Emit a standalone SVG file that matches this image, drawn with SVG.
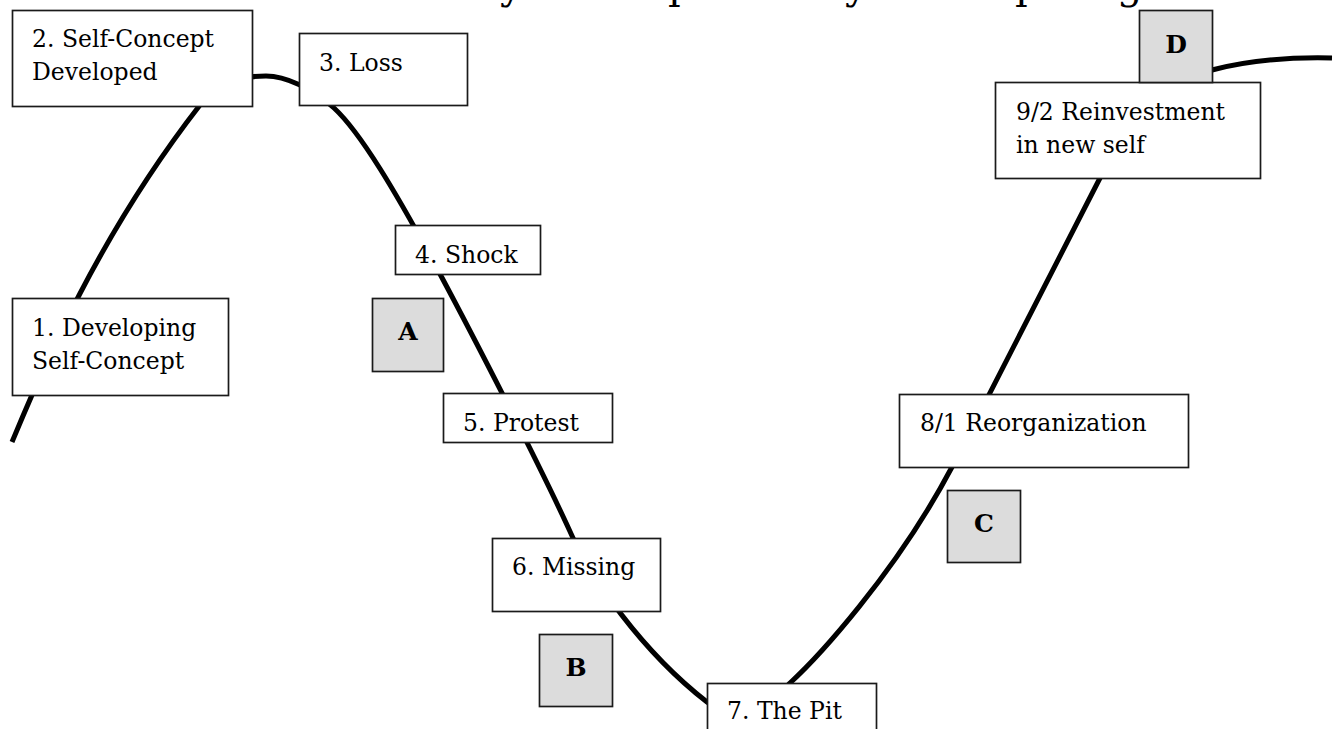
<svg xmlns="http://www.w3.org/2000/svg" width="1337" height="729" viewBox="0 0 1337 729">
<style>
.bg{fill:#ffffff}
.box rect{fill:#ffffff;stroke:#1a1a1a;stroke-width:1.7}
.tag rect{fill:#dcdcdc;stroke:#1a1a1a;stroke-width:1.7}
text{font-family:"DejaVu Serif","Liberation Serif",serif;font-size:23.5px;fill:#000}
.tag text{font-weight:bold;font-size:25px;text-anchor:middle}
.title{font-size:40px}
.curve{fill:none;stroke:#000;stroke-width:5;stroke-linecap:butt;stroke-linejoin:round}
</style>
<rect class="bg" x="0" y="0" width="1337" height="729"/>
<text class="title" x="500 668 845 1015 1117" y="-1">ypypg</text>
<g id="connectors">
<path class="curve" d="M12,442 C40,375 95,240 200,105 C220,80 245,76 266,76 C285,76 312,88 334,108 C360,132 395,190 440,274 C470,330 540,465 573,538 C590,575 640,650 707,702 C740,728 765,710 790,683 C815,660 895,575 952,467 L1100,178 C1130,120 1170,82 1212,70 C1250,60 1290,57 1332,58"/>
</g>
<g id="node1" class="box"><rect x="12.5" y="298.5" width="216" height="97"/><text x="32" y="335.5">1. Developing</text><text x="32" y="368.5">Self-Concept</text></g>
<g id="node2" class="box"><rect x="12.5" y="10.5" width="240" height="96"/><text x="32" y="47">2. Self-Concept</text><text x="32" y="80">Developed</text></g>
<g id="node3" class="box"><rect x="299.5" y="33.5" width="168" height="72"/><text x="319" y="70.5">3. Loss</text></g>
<g id="node4" class="box"><rect x="395.5" y="225.5" width="145" height="49"/><text x="415" y="262.5">4. Shock</text></g>
<g id="node5" class="box"><rect x="443.5" y="393.5" width="169" height="49"/><text x="463" y="431">5. Protest</text></g>
<g id="node6" class="box"><rect x="492.5" y="538.5" width="168" height="73"/><text x="512" y="575">6. Missing</text></g>
<g id="node7" class="box"><rect x="707.5" y="683.5" width="169" height="70"/><text x="727" y="719">7. The Pit</text></g>
<g id="node8" class="box"><rect x="899.5" y="394.5" width="289" height="73"/><text x="920" y="431">8/1 Reorganization</text></g>
<g id="node9" class="box"><rect x="995.5" y="82.5" width="265" height="96"/><text x="1016" y="120">9/2 Reinvestment</text><text x="1016" y="153">in new self</text></g>
<g id="tagA" class="tag"><rect x="372.5" y="298.5" width="71" height="73"/><text x="408" y="340">A</text></g>
<g id="tagB" class="tag"><rect x="539.5" y="634.5" width="73" height="72"/><text x="576" y="676">B</text></g>
<g id="tagC" class="tag"><rect x="947.5" y="490.5" width="73" height="72"/><text x="984" y="532">C</text></g>
<g id="tagD" class="tag"><rect x="1139.5" y="10.5" width="73" height="72"/><text x="1176" y="53">D</text></g>
</svg>
